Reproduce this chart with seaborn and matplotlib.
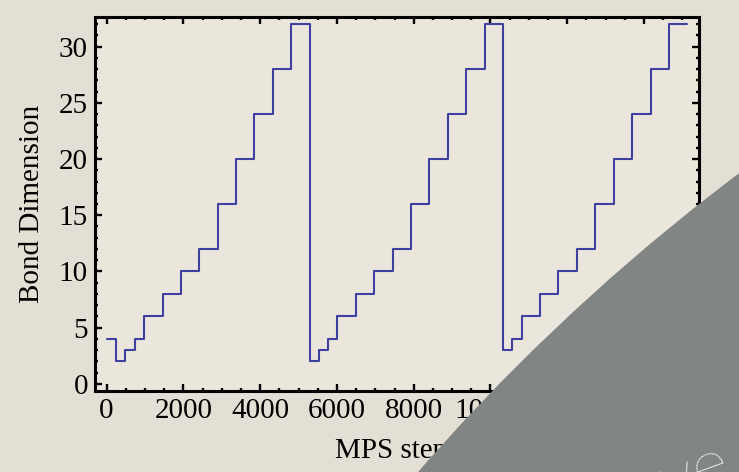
import matplotlib
matplotlib.use("Agg")
import matplotlib.pyplot as plt
import pandas as pd
import seaborn as sns
from matplotlib.patches import Circle
from matplotlib.transforms import IdentityTransform
from matplotlib.ticker import MultipleLocator

# Bond dimension schedule: each value holds from its start step until the next start
mps_step = [0, 250, 490, 730, 980, 1460, 1940, 2420, 2900, 3370, 3840, 4330, 4800,
            5290, 5530, 5770, 6010, 6490, 6970, 7450, 7930, 8410, 8890, 9370, 9850,
            10330, 10570, 10810, 11290, 11770, 12250, 12730, 13210, 13690, 14170, 14650,
            15130]
bond_dim = [4, 2, 3, 4, 6, 8, 10, 12, 16, 20, 24, 28, 32,
            2, 3, 4, 6, 8, 10, 12, 16, 20, 24, 28, 32,
            3, 4, 6, 8, 10, 12, 16, 20, 24, 28, 32,
            32]

x_label = "MPS steps"
y_label = "Bond Dimension"

sns.set_style("ticks")
plt.rcParams["font.family"] = ["Liberation Serif", "DejaVu Serif"]

W, H, DPI = 739, 472, 100
fig = plt.figure(figsize=(W / DPI, H / DPI), dpi=DPI, facecolor="#E4DFD4")
ax = fig.add_axes([95 / W, 1 - 391 / H, (699 - 95) / W, (391 - 17) / H])
ax.set_facecolor("#EAE6DC")

df = pd.DataFrame({"step": mps_step, "dim": bond_dim})
sns.lineplot(data=df, x="step", y="dim", ax=ax, sort=False, estimator=None,
             drawstyle="steps-post", color="#4040A0", linewidth=1.5)

ax.set_xlim(-300, 15430)
ax.set_ylim(-0.64, 32.64)
ax.xaxis.set_major_locator(MultipleLocator(2000))
ax.xaxis.set_minor_locator(MultipleLocator(500))
ax.yaxis.set_major_locator(MultipleLocator(5))
ax.yaxis.set_minor_locator(MultipleLocator(1))

ax.tick_params(which="both", direction="in", top=True, right=True,
               color="black", width=1.7, labelsize=21, labelcolor="black")
ax.tick_params(which="major", length=4.8, pad=5)
ax.tick_params(which="minor", length=2.4)
for s in ax.spines.values():
    s.set_linewidth(2.2)
    s.set_color("black")

ax.set_xlabel(x_label, fontsize=21, labelpad=10, color="black")
ax.set_ylabel(y_label, fontsize=21, labelpad=10, color="black")

# Decorative grey disc over the lower-right corner, with a large light caption
disc = Circle((2000, H - 1850), 2098, transform=IdentityTransform(),
              facecolor="#818684", edgecolor="none", zorder=10)
fig.add_artist(disc)
fig.text(668, H - 503, "ve", transform=IdentityTransform(), fontsize=50,
         family="Lato", fontweight="light", color="white", rotation=20,
         rotation_mode="anchor", ha="left", va="baseline", zorder=11)

fig.savefig("out.png", dpi=DPI, facecolor=fig.get_facecolor())
